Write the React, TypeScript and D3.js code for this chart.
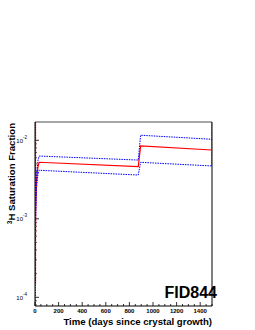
import React, { useEffect, useRef } from 'react';
import * as d3 from 'd3';

// days since crystal growth
const times = [0, 5, 12, 25, 35, 875, 895, 1500];
// central estimate (red) and upper/lower bounds (blue dotted)
const central = [1.5e-4, 1.2e-3, 3.0e-3, 4.6e-3, 5.25e-3, 4.62e-3, 8.46e-3, 7.52e-3];
const upper = [1.5e-4, 1.5e-3, 3.6e-3, 5.5e-3, 6.3e-3, 5.6e-3, 1.16e-2, 1.03e-2];
const lower = [1.5e-4, 0.9e-3, 2.4e-3, 3.7e-3, 4.15e-3, 3.61e-3, 5.24e-3, 4.71e-3];

const xTicks = [0, 200, 400, 600, 800, 1000, 1200, 1400];
const yDecades = [-4, -3, -2];

const W = 255;
const H = 330;

const App = () => {
  const ref = useRef<SVGSVGElement>(null);

  useEffect(() => {
    const svg = d3.select(ref.current);
    svg.selectAll('*').remove();

    const left = 35, right = 212, top = 122, bottom = 306;
    const font = '"Liberation Sans", Arial, Helvetica, sans-serif';

    const x = d3.scaleLinear().domain([0, 1500]).range([left, right]);
    const y = d3.scaleLog().domain([7.75e-5, 1.71e-2]).range([bottom, top]);

    svg.append('defs').append('clipPath').attr('id', 'plot-clip')
      .append('rect').attr('x', left).attr('y', top).attr('width', right - left).attr('height', bottom - top);

    // frame: grey top, black elsewhere
    svg.append('line').attr('x1', left).attr('x2', right).attr('y1', top).attr('y2', top)
      .attr('stroke', '#888').attr('stroke-width', 1.5);
    svg.append('line').attr('x1', right).attr('x2', right).attr('y1', top).attr('y2', bottom)
      .attr('stroke', '#000').attr('stroke-width', 1);
    svg.append('line').attr('x1', left).attr('x2', left).attr('y1', top).attr('y2', bottom)
      .attr('stroke', '#000').attr('stroke-width', 1);
    svg.append('line').attr('x1', left).attr('x2', right).attr('y1', bottom).attr('y2', bottom)
      .attr('stroke', '#000').attr('stroke-width', 1);

    // x ticks (inside, pointing up)
    const g = svg.append('g');
    d3.range(0, 1501, 50).forEach(t => {
      const major = t % 200 === 0;
      g.append('line').attr('x1', x(t)).attr('x2', x(t))
        .attr('y1', bottom).attr('y2', bottom - (major ? 4 : 2))
        .attr('stroke', '#000').attr('stroke-width', 0.8);
    });
    xTicks.forEach(t => {
      g.append('text').attr('x', x(t)).attr('y', bottom + 6.5)
        .attr('text-anchor', 'middle').style('font-family', font).style('font-weight', 'bold')
        .style('font-size', '6px').text(t);
    });

    // y ticks (log)
    yDecades.forEach(p => {
      const v = Math.pow(10, p);
      g.append('line').attr('x1', left).attr('x2', left + 4).attr('y1', y(v)).attr('y2', y(v))
        .attr('stroke', '#000').attr('stroke-width', 0.8);
      const t = g.append('text').attr('x', 27).attr('y', y(v) + 2.5)
        .attr('text-anchor', 'end').style('font-family', font)
        .style('font-size', '6px').text('10');
      t.append('tspan').attr('dy', -4).style('font-size', '4.5px').text(String(p));
    });
    for (let p = -5; p <= -2; p++) {
      for (let k = 2; k <= 9; k++) {
        const v = k * Math.pow(10, p);
        if (v < 7.75e-5 || v > 1.71e-2) continue;
        g.append('line').attr('x1', left).attr('x2', left + 2).attr('y1', y(v)).attr('y2', y(v))
          .attr('stroke', '#000').attr('stroke-width', 0.6);
      }
    }

    const line = d3.line<number>()
      .x((d, i) => x(times[i]))
      .y(d => y(d));

    const plot = svg.append('g').attr('clip-path', 'url(#plot-clip)');

    // edge segments
    plot.append('line').attr('x1', x(1500)).attr('x2', x(1500))
      .attr('y1', top).attr('y2', y(lower[lower.length - 1]))
      .attr('stroke', '#ff0000').attr('stroke-width', 1.2);
    plot.append('line').attr('x1', x(0) + 0.5).attr('x2', x(0) + 0.5)
      .attr('y1', top).attr('y2', y(central[0]))
      .attr('stroke', '#ff0000').attr('stroke-width', 1.2);

    plot.append('path').datum(central).attr('d', line)
      .attr('fill', 'none').attr('stroke', '#ff0000').attr('stroke-width', 1.2);

    [upper, lower].forEach(s => {
      plot.append('path').datum(s).attr('d', line)
        .attr('fill', 'none').attr('stroke', '#0000ff').attr('stroke-width', 1)
        .attr('stroke-dasharray', '1.5,1');
    });
    plot.append('line').attr('x1', x(1500)).attr('x2', x(1500))
      .attr('y1', top).attr('y2', y(lower[lower.length - 1]))
      .attr('stroke', '#0000ff').attr('stroke-width', 1).attr('stroke-dasharray', '1.5,1');
    plot.append('line').attr('x1', x(0) + 0.5).attr('x2', x(0) + 0.5)
      .attr('y1', top).attr('y2', bottom)
      .attr('stroke', '#0000ff').attr('stroke-width', 1).attr('stroke-dasharray', '1.5,1');

    // axis titles
    svg.append('text').attr('x', right).attr('y', 325)
      .attr('text-anchor', 'end').style('font-family', font).style('font-weight', 'bold')
      .style('font-size', '9.6px').text('Time (days since crystal growth)');

    const yl = svg.append('text').attr('transform', `translate(15, ${top + 1}) rotate(-90)`)
      .attr('text-anchor', 'end').style('font-family', font).style('font-weight', 'bold')
      .style('font-size', '9.6px');
    yl.append('tspan').attr('dy', -3.5).style('font-size', '6.5px').text('3');
    yl.append('tspan').attr('dy', 3.5).text('H Saturation Fraction');

    svg.append('text').attr('x', 217).attr('y', 298)
      .attr('text-anchor', 'end').style('font-family', font).style('font-weight', 'bold')
      .style('font-size', '16px').text('FID844');
  }, []);

  return (
    <svg ref={ref} width={W} height={H}
      style={{ position: 'absolute', left: 0, top: 0, background: '#fff' }} />
  );
};

export default App;
